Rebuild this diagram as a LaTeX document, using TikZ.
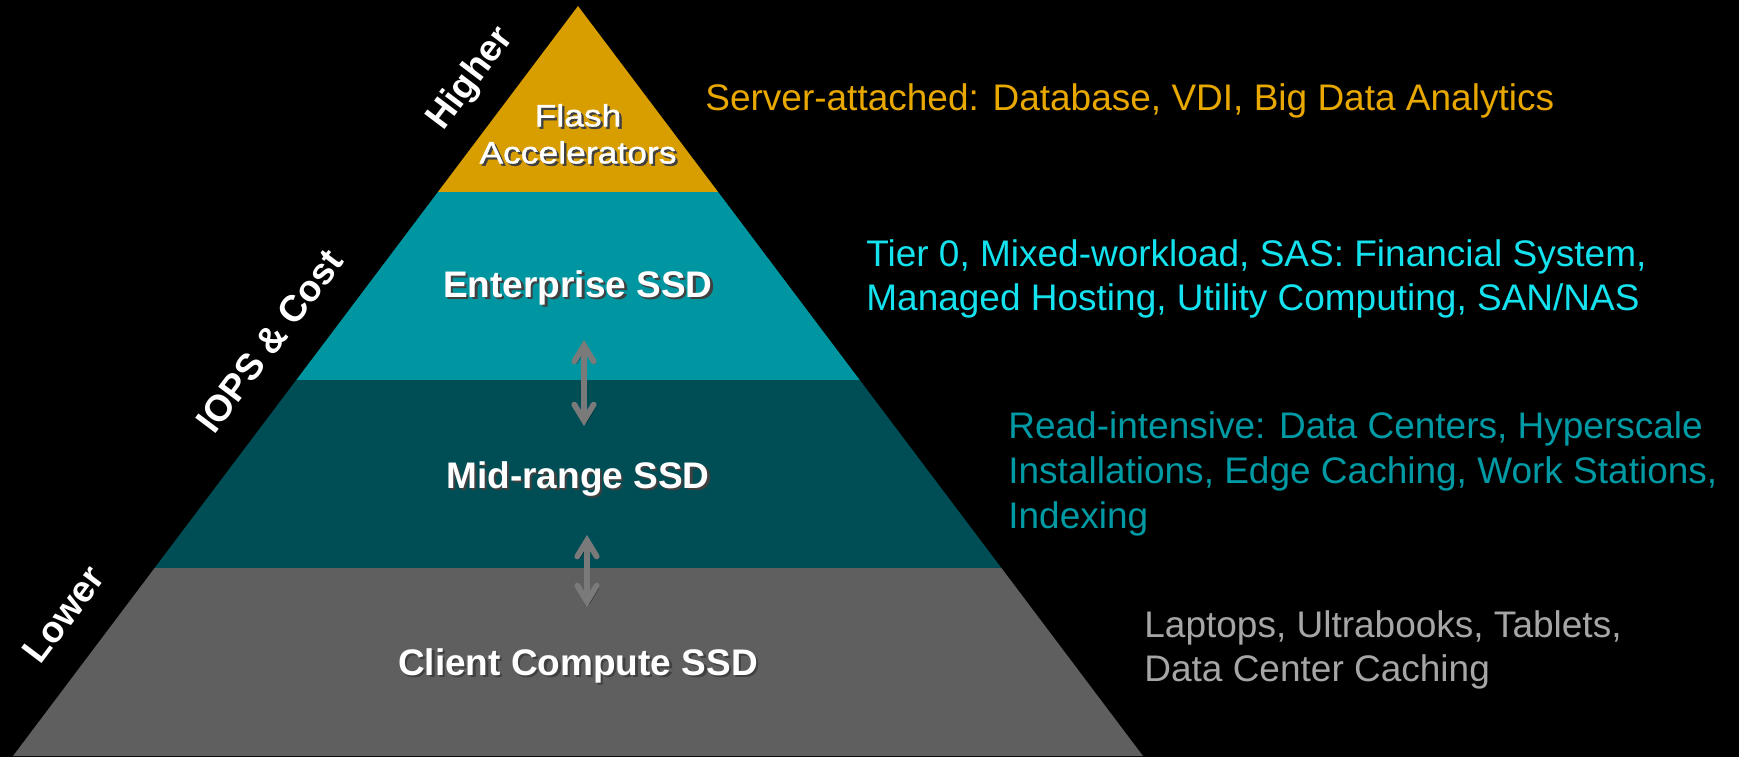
\documentclass[tikz,border=0pt]{standalone}
\usepackage{fontspec}
\setmainfont{Liberation Sans}
\newfontfamily\widesans[FakeStretch=1.15, FakeBold=1.2]{Liberation Sans}
\usetikzlibrary{arrows.meta}

\definecolor{tiergold}{HTML}{D89E00}
\definecolor{tierteal}{HTML}{0096A1}
\definecolor{tierdark}{HTML}{004E55}
\definecolor{tiergray}{HTML}{5F5F5F}
\definecolor{arrowgray}{HTML}{7A7A7A}
\definecolor{txtgold}{HTML}{E8A800}
\definecolor{txtcyan}{HTML}{14E2EE}
\definecolor{txtteal}{HTML}{009AA5}
\definecolor{txtgray}{HTML}{A6A6A6}

% white text with a small dark drop shadow
\newcommand\shadowtxt[1]{\makebox[0pt][l]{\kern1.3pt\raisebox{-1.3pt}{\textcolor{black!75}{#1}}}#1}

\tikzset{
  tierlabel/.style={text=white, font=\fontsize{21}{24}\selectfont\bfseries, anchor=mid, inner sep=0pt},
  sidelabel/.style={text=white, font=\fontsize{21}{24}\selectfont\bfseries, anchor=mid, inner sep=0pt, rotate=53},
  usetext/.style={anchor=west, align=left, inner sep=0pt, font=\fontsize{21}{25}\selectfont},
  tierarrow/.style={draw=arrowgray, line width=3.3pt, line cap=round,
    {Straight Barb[length=9pt, width=11pt, line cap=round]}-{Straight Barb[length=9pt, width=11pt, line cap=round]},
    preaction={draw=black, draw opacity=0.5, transform canvas={shift={(1.3pt,-1.3pt)}}}}
}

\begin{document}
\begin{tikzpicture}[x=0.5675pt, y=-0.5675pt]
  % canvas
  \fill[black] (0,0) rectangle (1739,757);
  \useasboundingbox (0,0) rectangle (1739,757);

  % pyramid corners and tier boundaries
  \coordinate (apex) at (578,6);
  \coordinate (l1) at (437.9,192); \coordinate (r1) at (718.1,192);
  \coordinate (l2) at (296.3,380); \coordinate (r2) at (859.7,380);
  \coordinate (l3) at (154.6,568); \coordinate (r3) at (1001.4,568);
  \coordinate (l4) at (13,756);    \coordinate (r4) at (1143,756);

  % tiers
  \fill[tiergold] (apex) -- (r1) -- (l1) -- cycle;
  \fill[tierteal] (l1) -- (r1) -- (r2) -- (l2) -- cycle;
  \fill[tierdark] (l2) -- (r2) -- (r3) -- (l3) -- cycle;
  \fill[tiergray] (l3) -- (r3) -- (r4) -- (l4) -- cycle;

  % tier names
  \node[text=white, inner sep=0pt, align=center,
        font=\fontsize{17.5}{21}\selectfont\widesans] (flash) at (578,135)
        {\shadowtxt{Flash}\\\shadowtxt{Accelerators}};
  \node[tierlabel] (ent) at (578,293) {\shadowtxt{Enterprise SSD}};
  \node[tierlabel] (mid) at (578,484) {\shadowtxt{Mid-range SSD}};
  \node[tierlabel] (cli) at (578,671) {\shadowtxt{Client Compute SSD}};

  % movement between tiers
  \coordinate (a1top) at (584,340); \coordinate (a1bot) at (584,426);
  \coordinate (a2top) at (587,535); \coordinate (a2bot) at (587,607);
  \draw[tierarrow] (a1top) -- (a1bot);
  \draw[tierarrow] (a2top) -- (a2bot);

  % axis along the left edge
  \node[sidelabel] (hi)   at (475,82)  {Higher};
  \node[sidelabel] (iops) at (276,346) {IOPS \& Cost};
  \node[sidelabel] (lo)   at (70,619)  {Lower};

  % applications per tier
  \node[usetext, text=txtgold] (u1) at (705,101)
    {Server-attached: Database, VDI, Big Data Analytics};
  \node[usetext, text=txtcyan] (u2) at (866,279)
    {Tier 0, Mixed-workload, SAS: Financial System,\\Managed Hosting, Utility Computing, SAN/NAS};
  \node[usetext, text=txtteal, font=\fontsize{21}{25.5}\selectfont] (u3) at (1008,474)
    {Read-intensive: Data Centers, Hyperscale\\Installations, Edge Caching, Work Stations,\\Indexing};
  \node[usetext, text=txtgray] (u4) at (1144,650)
    {Laptops, Ultrabooks, Tablets,\\Data Center Caching};
\end{tikzpicture}
\end{document}
